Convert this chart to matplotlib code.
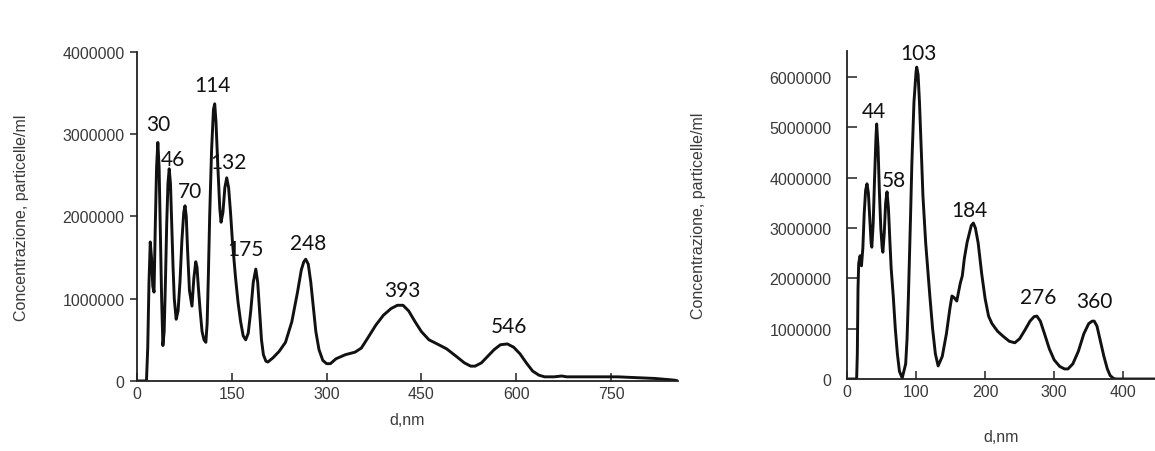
import matplotlib.pyplot as plt
import numpy as np

# left panel: size distribution (d in nm, concentration in millions)
left_d = [0, 15, 17, 19, 21, 23, 25, 27, 29, 31, 33, 35, 37, 39, 41, 43, 45, 47, 49, 51,
          53, 55, 57, 59, 62, 65, 68, 71, 74, 76, 78, 80, 83, 87, 90, 93, 95, 97, 100, 103,
          106, 109, 111, 113, 115, 118, 121, 123, 125, 128, 131, 133, 136, 139, 142, 145, 148, 151, 156, 160,
          164, 168, 172, 176, 180, 184, 188, 191, 194, 197, 200, 204, 207, 215, 225, 235, 245, 254, 260, 264,
          267, 271, 275, 279, 283, 288, 294, 300, 306, 315, 330, 345, 355, 365, 378, 390, 402, 412, 421, 430,
          440, 450, 462, 475, 490, 505, 518, 528, 535, 545, 555, 565, 575, 586, 596, 606, 616, 626, 636, 645,
          660, 672, 680, 700, 730, 760, 790, 820, 850, 856]
left_conc = [0, 0, 0.4, 1.2, 1.69, 1.5, 1.15, 1.08, 1.9, 2.6, 2.9, 2.6, 1.8, 1.0, 0.43, 0.6, 1.2, 1.9, 2.4, 2.58,
             2.4, 1.9, 1.4, 1.0, 0.75, 0.85, 1.2, 1.7, 2.05, 2.13, 2.0, 1.6, 1.1, 0.91, 1.25, 1.45, 1.38, 1.15, 0.85, 0.6,
             0.5, 0.47, 0.7, 1.3, 2.0, 2.8, 3.3, 3.37, 3.15, 2.6, 2.1, 1.93, 2.05, 2.35, 2.47, 2.35, 2.05, 1.7, 1.25, 0.95,
             0.72, 0.55, 0.5, 0.58, 0.85, 1.2, 1.36, 1.2, 0.85, 0.5, 0.32, 0.24, 0.23, 0.28, 0.36, 0.47, 0.72, 1.08, 1.35, 1.45,
             1.48, 1.42, 1.2, 0.9, 0.6, 0.38, 0.25, 0.21, 0.21, 0.27, 0.32, 0.35, 0.4, 0.52, 0.68, 0.8, 0.88, 0.92, 0.92, 0.85,
             0.72, 0.6, 0.5, 0.45, 0.39, 0.3, 0.22, 0.18, 0.18, 0.22, 0.3, 0.38, 0.44, 0.45, 0.41, 0.33, 0.22, 0.12, 0.07, 0.05,
             0.05, 0.06, 0.05, 0.05, 0.05, 0.05, 0.04, 0.03, 0.01, 0]

# right panel
right_d = [0, 14, 15, 16, 17, 19, 21, 23, 25, 27, 29, 31, 33, 35, 36, 38, 40, 42, 43, 45,
           47, 49, 51, 52, 54, 56, 58, 60, 61, 62, 64, 67, 70, 73, 76, 80, 85, 87, 89, 92,
           94, 97, 100, 101, 103, 105, 108, 110, 114, 118, 120, 124, 128, 132, 138, 144, 149, 152, 155, 159,
           164, 167, 170, 174, 180, 183, 186, 190, 195, 200, 205, 210, 218, 226, 235, 243, 250, 258, 265, 271,
           275, 280, 286, 293, 300, 308, 315, 320, 327, 335, 343, 350, 355, 358, 362, 367, 372, 377, 381, 386,
           390, 446]
right_conc = [0, 0, 0.5, 1.8, 2.3, 2.45, 2.25, 2.6, 3.3, 3.75, 3.88, 3.7, 3.2, 2.7, 2.62, 3.1, 4.0, 4.8, 5.07, 4.6,
              3.7, 3.0, 2.6, 2.52, 2.9, 3.5, 3.72, 3.4, 3.1, 2.78, 2.2, 1.65, 1.0, 0.5, 0.15, 0.02, 0.3, 0.8, 1.65, 3.2,
              4.3, 5.5, 6.1, 6.2, 6.05, 5.5, 4.4, 3.64, 2.7, 2.0, 1.65, 1.0, 0.5, 0.26, 0.45, 0.9, 1.4, 1.65, 1.62, 1.55,
              1.9, 2.05, 2.4, 2.72, 3.05, 3.1, 3.0, 2.7, 2.1, 1.6, 1.25, 1.1, 0.95, 0.85, 0.75, 0.72, 0.8, 0.98, 1.15, 1.24,
              1.25, 1.15, 0.9, 0.6, 0.38, 0.25, 0.2, 0.2, 0.3, 0.55, 0.9, 1.1, 1.15, 1.15, 1.05, 0.75, 0.45, 0.2, 0.07, 0.01,
              0, 0]

left_labels = ["30", "46", "70", "114", "132", "175", "248", "393", "546"]
left_label_pos = [(33, 3.12), (57, 2.70), (84, 2.31), (120, 3.60), (144, 2.66),
                  (171, 1.60), (270, 1.68), (420, 1.10), (589, 0.67)]
right_labels = ["44", "58", "103", "184", "276", "360"]
right_label_pos = [(39, 5.33), (68, 3.96), (104, 6.48), (177, 3.36), (277, 1.63), (358, 1.55)]

left_xticks = [0, 150, 300, 450, 600, 750]
left_yticks = [0, 1000000, 2000000, 3000000, 4000000]
right_xticks = [0, 100, 200, 300, 400]
right_yticks = [0, 1000000, 2000000, 3000000, 4000000, 5000000, 6000000]

TICK_COLOR = "#3a3a3a"
TICK_FONT = "Liberation Sans"
NOTE_FONT = "Lato"

fig = plt.figure(figsize=(11.55, 4.52), dpi=100)
ax1 = fig.add_axes([0.1186, 0.155, 0.4684, 0.7277])
ax2 = fig.add_axes([0.7333, 0.1593, 0.2667, 0.7257])


def style_axis(ax, ydir):
    for side in ("top", "right"):
        ax.spines[side].set_visible(False)
    for side in ("left", "bottom"):
        ax.spines[side].set_linewidth(1.3)
        ax.spines[side].set_color("#222222")
    ax.tick_params(axis="x", direction="in", length=6, width=1.1, pad=3.5,
                   labelsize=11.5, labelcolor=TICK_COLOR, color="#222222")
    ax.tick_params(axis="y", direction=ydir, length=5 if ydir == "out" else 7, width=1.1,
                   pad=4 if ydir == "out" else 11,
                   labelsize=11.5, labelcolor=TICK_COLOR, color="#222222")
    for lab in ax.get_xticklabels() + ax.get_yticklabels():
        lab.set_fontfamily(TICK_FONT)


ax1.plot(left_d, np.array(left_conc) * 1e6, color="#111111", lw=2.1, solid_joinstyle="round")
ax1.set_xlim(0, 856)
ax1.set_ylim(0, 4000000)
ax1.set_xticks(left_xticks)
ax1.set_yticks(left_yticks)
ax1.set_xticklabels([str(t) for t in left_xticks])
ax1.set_yticklabels([str(t) for t in left_yticks])
style_axis(ax1, "out")
ax1.set_xlabel("d,nm", fontsize=11.5, color=TICK_COLOR, family=TICK_FONT, labelpad=8)
ax1.set_ylabel("Concentrazione, particelle/ml", fontsize=11.5, color=TICK_COLOR,
               family=TICK_FONT, labelpad=24)
for txt, (x, y) in zip(left_labels, left_label_pos):
    ax1.text(x, y * 1e6, txt, ha="center", va="center", fontsize=15,
             family=NOTE_FONT, color="#111111")

ax2.plot(right_d, np.array(right_conc) * 1e6, color="#111111", lw=2.1, solid_joinstyle="round")
ax2.set_xlim(0, 446)
ax2.set_ylim(0, 6520000)
ax2.set_xticks(right_xticks)
ax2.set_yticks(right_yticks)
ax2.set_xticklabels([str(t) for t in right_xticks])
ax2.set_yticklabels([str(t) for t in right_yticks])
style_axis(ax2, "in")
ax2.set_xlabel("d,nm", fontsize=11.5, color=TICK_COLOR, family=TICK_FONT, labelpad=22)
ax2.set_ylabel("Concentrazione, particelle/ml", fontsize=11.5, color=TICK_COLOR,
               family=TICK_FONT, labelpad=46)
for txt, (x, y) in zip(right_labels, right_label_pos):
    ax2.text(x, y * 1e6, txt, ha="center", va="center", fontsize=15,
             family=NOTE_FONT, color="#111111")

fig.savefig("out.png", dpi=100)
